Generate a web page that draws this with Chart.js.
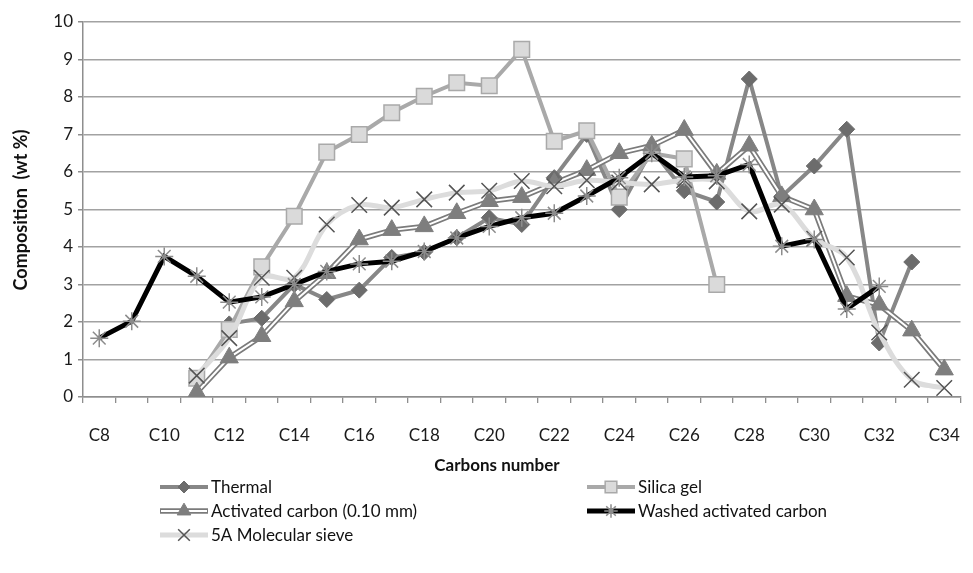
<!DOCTYPE html>
<html>
<head>
<meta charset="utf-8">
<script src="https://cdn.jsdelivr.net/npm/chart.js@4.4.1/dist/chart.umd.min.js"></script>
<style>
  html, body { margin: 0; padding: 0; background: #fff; }
  canvas { display: block; }
</style>
</head>
<body>
<canvas id="chart" width="973" height="573"></canvas>
<script>
// carbon numbers on the x axis, every other one labelled
const categories = ['C8', 'C9', 'C10', 'C11', 'C12', 'C13', 'C14', 'C15', 'C16', 'C17', 'C18', 'C19', 'C20', 'C21',
  'C22', 'C23', 'C24', 'C25', 'C26', 'C27', 'C28', 'C29', 'C30', 'C31', 'C32', 'C33', 'C34'];
const xTickLabels = ['C8', 'C10', 'C12', 'C14', 'C16', 'C18', 'C20', 'C22', 'C24', 'C26', 'C28', 'C30', 'C32', 'C34'];
const yMin = 0, yMax = 10, yStep = 1;

// composition, wt %
const thermal = [null, null, null, null, 1.95, 2.1, 3.0, 2.6, 2.85, 3.72, 3.86, 4.25, 4.78, 4.6,
  5.85, 7.0, 5.0, 6.6, 5.5, 5.2, 8.48, 5.35, 6.16, 7.14, 1.44, 3.6, null];
const silicaGel = [null, null, null, 0.5, 1.8, 3.47, 4.82, 6.53, 7.0, 7.58, 8.02, 8.38, 8.3, 9.27,
  6.82, 7.1, 5.33, 6.5, 6.35, 3.0, null, null, null, null, null, null, null];
const activatedCarbon = [null, null, null, 0.12, 1.05, 1.62, 2.55, 3.3, 4.2, 4.45, 4.55, 4.9, 5.22, 5.33,
  5.7, 6.05, 6.5, 6.7, 7.12, 5.95, 6.7, 5.35, 5.0, 2.69, 2.46, 1.77, 0.73];
const washedCarbon = [1.57, 2.02, 3.75, 3.22, 2.53, 2.67, 3.0, 3.35, 3.55, 3.62, 3.88, 4.24, 4.55, 4.78,
  4.9, 5.36, 5.85, 6.5, 5.87, 5.9, 6.2, 4.02, 4.2, 2.35, 2.95, null, null];
const sieve5A = [null, null, null, 0.57, 1.57, 3.18, 3.18, 4.6, 5.12, 5.05, 5.27, 5.45, 5.5, 5.76,
  5.62, 5.78, 5.72, 5.67, 5.78, 5.75, 4.95, 5.13, 4.22, 3.72, 1.72, 0.46, 0.24];

const FONT = 'Lato, "Open Sans", sans-serif';
const AXIS_GREY = '#8e8e8e';

// series styles, shared by the datasets and the legend
const styles = {
  thermal: { line: '#878787', width: 4, point: 'rectRot', radius: 8, fill: '#6c6c6c', stroke: '#6c6c6c', pw: 1 },
  silica: { line: '#a9a9a9', width: 4, point: 'rect', radius: 11, fill: '#dadada', stroke: '#a9a9a9', pw: 1.5 },
  activated: { line: '#7b7b7b', width: 5.5, inner: '#ffffff', innerWidth: 2, point: 'triangle', radius: 10.5, fill: '#7e7e7e', stroke: '#7e7e7e', pw: 1 },
  washed: { line: '#000000', width: 5, point: 'star', radius: 9, fill: '#8c8c8c', stroke: '#8c8c8c', pw: 1.5 },
  sieve: { line: '#dcdcdc', width: 5, point: 'crossRot', radius: 11, fill: '#555555', stroke: '#555555', pw: 1.5 }
};

function lineSet(label, data, s, order, extra) {
  return Object.assign({
    label, data, order,
    borderColor: s.line,
    borderWidth: s.width,
    pointStyle: s.point,
    pointRadius: s.radius,
    pointHoverRadius: s.radius,
    pointBackgroundColor: s.fill,
    pointBorderColor: s.stroke,
    pointBorderWidth: s.pw,
    tension: 0,
    spanGaps: false,
    fill: false
  }, extra || {});
}

const datasets = [
  lineSet('Thermal', thermal, styles.thermal, 7),
  lineSet('Silica gel', silicaGel, styles.silica, 6),
  // activated carbon is a double line: grey band, white core, then the markers
  lineSet('Activated carbon (0.10 mm)', activatedCarbon, styles.activated, 5, { pointRadius: 0, pointHoverRadius: 0 }),
  lineSet('', activatedCarbon, styles.activated, 4, {
    borderColor: styles.activated.inner, borderWidth: styles.activated.innerWidth, pointRadius: 0, pointHoverRadius: 0
  }),
  lineSet('', activatedCarbon, styles.activated, 3, { showLine: false }),
  lineSet('5A Molecular sieve', sieve5A, styles.sieve, 2, { tension: 0.35 }),
  lineSet('Washed activated carbon', washedCarbon, styles.washed, 1)
];

const legendItems = [
  { text: 'Thermal', s: styles.thermal, x: 160, y: 487 },
  { text: 'Silica gel', s: styles.silica, x: 587, y: 487 },
  { text: 'Activated carbon (0.10 mm)', s: styles.activated, x: 160, y: 511 },
  { text: 'Washed activated carbon', s: styles.washed, x: 587, y: 511 },
  { text: '5A Molecular sieve', s: styles.sieve, x: 160, y: 535 }
];

const xTitle = 'Carbons number';
const yTitle = 'Composition  (wt %)';

// axis titles and the two-column legend, drawn straight on the canvas
const decorations = {
  id: 'decorations',
  afterDraw(chart) {
    const ctx = chart.ctx;
    ctx.save();
    ctx.fillStyle = '#111';
    ctx.textAlign = 'center';
    ctx.textBaseline = 'middle';
    ctx.font = 'bold 17px ' + FONT;
    ctx.fillText(xTitle, 497, 466);
    ctx.save();
    ctx.font = 'bold 18px ' + FONT;
    ctx.translate(21, 210);
    ctx.rotate(-Math.PI / 2);
    ctx.fillText(yTitle, 0, 0);
    ctx.restore();

    ctx.font = '17px ' + FONT;
    ctx.textAlign = 'left';
    legendItems.forEach(item => {
      const s = item.s;
      const x0 = item.x, x1 = item.x + 48, y = item.y;
      ctx.lineCap = 'butt';
      ctx.strokeStyle = s.line;
      ctx.lineWidth = s.width;
      ctx.beginPath();
      ctx.moveTo(x0, y);
      ctx.lineTo(x1, y);
      ctx.stroke();
      if (s.inner) {
        ctx.strokeStyle = s.inner;
        ctx.lineWidth = s.innerWidth;
        ctx.beginPath();
        ctx.moveTo(x0 + 1, y);
        ctx.lineTo(x1 - 1, y);
        ctx.stroke();
      }
      ctx.fillStyle = s.fill;
      ctx.strokeStyle = s.stroke;
      ctx.lineWidth = s.pw;
      Chart.helpers.drawPoint(ctx, {
        pointStyle: s.point, radius: s.radius * 0.75, rotation: 0, borderWidth: s.pw
      }, (x0 + x1) / 2, y);
      ctx.fillStyle = '#111';
      ctx.fillText(item.text, x1 + 3, y + 1);
    });
    ctx.restore();
  }
};

new Chart(document.getElementById('chart'), {
  type: 'line',
  data: { labels: categories, datasets },
  plugins: [decorations],
  options: {
    responsive: false,
    animation: false,
    layout: { padding: { top: 22, right: 1, left: 0, bottom: 0 } },
    plugins: {
      legend: { display: false },
      tooltip: { enabled: false }
    },
    scales: {
      x: {
        type: 'category',
        offset: true,
        afterFit: scale => {
          scale.height = 176;
          scale.paddingLeft = 0;
          scale.paddingRight = 0;
        },
        grid: {
          offset: true,
          drawOnChartArea: false,
          drawTicks: true,
          tickLength: 6,
          color: AXIS_GREY,
          lineWidth: 1.3
        },
        border: { display: true, color: AXIS_GREY, width: 1.5 },
        ticks: {
          autoSkip: false,
          maxRotation: 0,
          padding: 22,
          color: '#1a1a1a',
          font: { family: FONT, size: 17 },
          callback: (value, i) => xTickLabels.includes(categories[i]) ? categories[i] : ''
        }
      },
      y: {
        min: yMin,
        max: yMax,
        afterFit: scale => { scale.width = 83; },
        grid: {
          color: '#a2a2a2',
          lineWidth: 1.5,
          drawTicks: true,
          tickLength: 5,
          tickColor: AXIS_GREY
        },
        border: { display: true, color: AXIS_GREY, width: 1.5 },
        ticks: {
          stepSize: yStep,
          padding: 5,
          color: '#1a1a1a',
          font: { family: FONT, size: 17 }
        }
      }
    }
  }
});
</script>
</body>
</html>
